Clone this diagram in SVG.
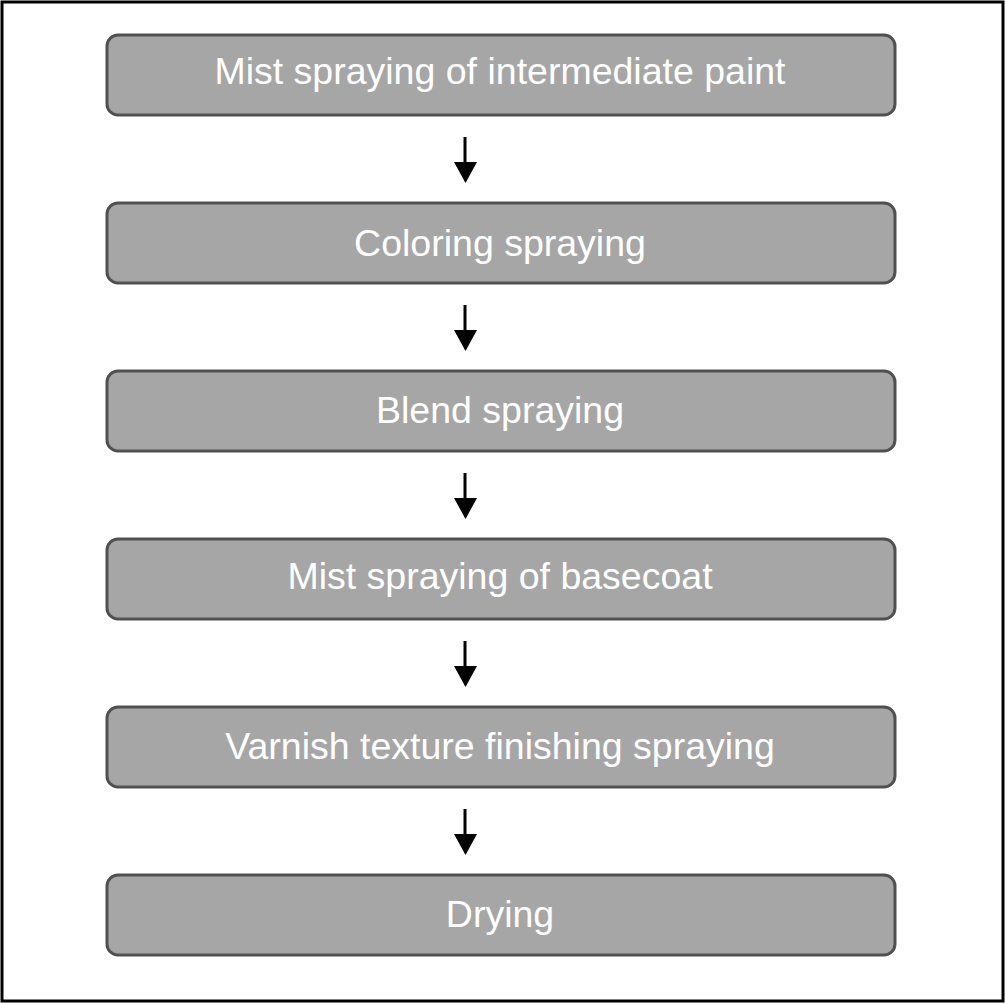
<svg xmlns="http://www.w3.org/2000/svg" width="1005" height="1004" viewBox="0 0 1005 1004">
<style>
.box{fill:#a6a6a6;stroke:#505050;stroke-width:3}
.lbl{font-family:"Liberation Sans",Arial,sans-serif;font-size:37.5px;fill:#ffffff;text-anchor:middle}
.conn{stroke:#000;stroke-width:3;fill:none}
</style>
<rect x="2" y="2" width="1001" height="999" fill="#fff" stroke="#000" stroke-width="3"/>
<g id="connectors">
<path class="conn" d="M465,137 V163"/><path d="M454,162 H477 L465.5,183 z" fill="#000"/>
<path class="conn" d="M465,305 V331"/><path d="M454,330 H477 L465.5,351 z" fill="#000"/>
<path class="conn" d="M465,473 V499"/><path d="M454,498 H477 L465.5,519 z" fill="#000"/>
<path class="conn" d="M465,641 V667"/><path d="M454,666 H477 L465.5,687 z" fill="#000"/>
<path class="conn" d="M465,809 V835"/><path d="M454,834 H477 L465.5,855 z" fill="#000"/>
</g>
<g id="n1"><rect class="box" x="107" y="35" width="788" height="80" rx="11"/><text class="lbl" x="500" y="84">Mist spraying of intermediate paint</text></g>
<g id="n2"><rect class="box" x="107" y="203" width="788" height="80" rx="11"/><text class="lbl" x="500" y="256">Coloring spraying</text></g>
<g id="n3"><rect class="box" x="107" y="371" width="788" height="80" rx="11"/><text class="lbl" x="500" y="423">Blend spraying</text></g>
<g id="n4"><rect class="box" x="107" y="539" width="788" height="80" rx="11"/><text class="lbl" x="500" y="589">Mist spraying of basecoat</text></g>
<g id="n5"><rect class="box" x="107" y="707" width="788" height="80" rx="11"/><text class="lbl" x="500" y="759">Varnish texture finishing spraying</text></g>
<g id="n6"><rect class="box" x="107" y="875" width="788" height="80" rx="11"/><text class="lbl" x="500" y="927">Drying</text></g>
</svg>
